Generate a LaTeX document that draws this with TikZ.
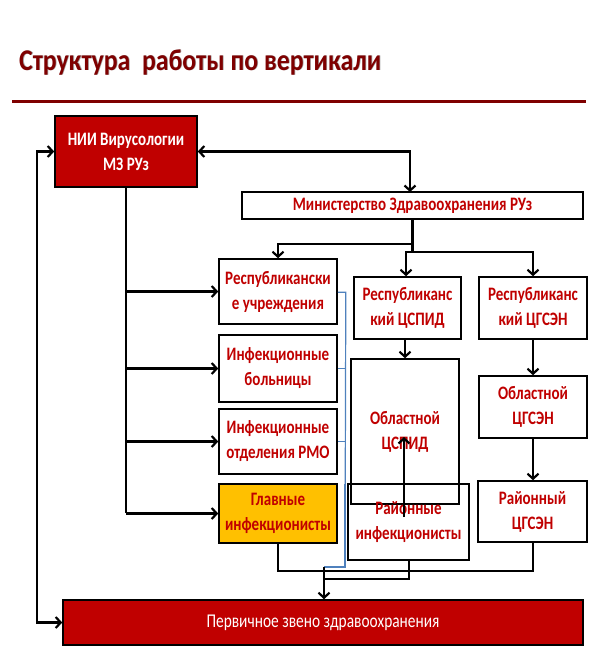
\documentclass[tikz,border=0pt]{standalone}
\usepackage{fontspec}
\setmainfont{Carlito}
\newfontfamily\cf[FakeStretch=0.79]{Carlito}
\newfontfamily\tf[FakeStretch=0.86]{Carlito}
\usetikzlibrary{arrows.meta,calc}
\definecolor{boxred}{HTML}{C00000}
\definecolor{txtred}{HTML}{C00000}
\definecolor{titlered}{HTML}{7F0000}
\definecolor{gold}{HTML}{FFC000}
\definecolor{bluel}{HTML}{4F81BD}
\tikzset{
  box/.style={draw=black, line width=1.6pt, inner sep=0pt, align=center,
    text=txtred, font=\cf\bfseries\fontsize{19}{25}\selectfont},
  redbox/.style={box, fill=boxred, text=white},
  conn/.style={line width=2.4pt, draw=black},
  arr/.style={conn, -{Straight Barb[length=5pt,width=11pt,line width=2.2pt]}},
  barr/.style={conn, {Straight Barb[length=5pt,width=11pt,line width=2.2pt]}-{Straight Barb[length=5pt,width=11pt,line width=2.2pt]}},
  thinconn/.style={line width=2pt, draw=black},
  bline/.style={line width=1.2pt, draw=bluel},
  titlefont/.style={anchor=base west, inner sep=0pt, font=\tf\bfseries\fontsize{30}{34}\selectfont},
}
\newcommand{\bx}[6]{% name, x1,y1,x2,y2, style
  \node[#6, minimum width={#4-#2}, minimum height={#5-#3}] (#1) at ({(#2+#4)/2},{(#3+#5)/2})}
\begin{document}
\begin{tikzpicture}[x=1pt,y=-1pt]
\useasboundingbox (0,0) rectangle (599,662);
\fill[white] (0,0) rectangle (599,662);
% title
\node[titlefont, text=black!35] (titlesh) at (19.8,70.8) {Структура\ \ работы по вертикали};
\node[titlefont, text=titlered] (title) at (19,70) {Структура\ \ работы по вертикали};
\draw[titlered, line width=3pt] (12,101.5) coordinate (la) -- (586,101.5) coordinate (lb);
% boxes
\bx{nii}{55}{116}{197}{187}{redbox}{НИИ Вирусологии\\МЗ РУз};
\bx{min}{242}{192}{583}{219}{box}{Министерство Здравоохранения РУз};
\bx{repu}{219}{259}{337}{324}{box}{Республикански\\е учреждения};
\bx{repc}{354}{277}{461}{339}{box}{Республиканс\\кий ЦСПИД};
\bx{repg}{479}{277}{587}{339}{box}{Республиканс\\кий ЦГСЭН};
\bx{infb}{219}{335}{337}{402}{box}{Инфекционные\\больницы};
\bx{infr}{219}{409}{337}{474}{box}{Инфекционные\\отделения РМО};
\bx{glav}{219}{484}{337}{543}{box, fill=gold}{Главные\\инфекционисты};
\bx{oblc}{351}{359}{459}{504}{box}{Областной\\ЦСПИД};
\bx{rayi}{348}{484}{469}{560}{box}{Районные\\инфекционисты};
\bx{oblg}{479}{376}{587}{438}{box}{Областной\\ЦГСЭН};
\bx{rayg}{478}{481}{587}{542}{box}{Районный\\ЦГСЭН};
\bx{perv}{63}{600}{583}{645}{redbox, font=\cf\fontsize{19.5}{22}\selectfont}{Первичное звено здравоохранения};
% coordinates
\coordinate (mintop) at (410,192);
\coordinate (niispine) at (126,513);
\coordinate (up1) at (404,517);
\coordinate (up2) at (404,437);
\coordinate (merge) at (324,567);
\coordinate (rbot) at (324,579);
% connectors
\draw[barr] (nii.west) -- ++(-17,0) |- (perv.west);
\draw[barr] (nii.east) -| (mintop);
\draw[conn] (min.south) -- ++(0,32);
\draw[arr] ($(min.south)+(0,24)$) -| (repu.north);
\draw[arr] ($(min.south)+(0,32)$) -| ($(repc.north)+(-1.5,0)$);
\draw[arr] ($(min.south)+(0,32)$) -| (repg.north);
\draw[conn] (nii.south) -- (niispine);
\draw[arr] (repu.west -| niispine) -- (repu.west);
\draw[arr] (infb.west -| niispine) -- (infb.west);
\draw[arr] (infr.west -| niispine) -- (infr.west);
\draw[arr] (glav.west -| niispine) -- (glav.west);
\draw[arr] (repc.south -| oblc.north) -- (oblc.north);
\draw[arr] (repg.south) -- (oblg.north -| repg.south);
\draw[arr] (oblg.south) -- (rayg.north -| oblg.south);
% blue line
\draw[bline] ($(repu.north east)+(0,34)$) -- ++(8,0) -- (345,567) -- (merge);
\draw[bline] (infb.east) -- (infb.east -| 345,0);
\draw[bline] (infr.east) -- (infr.east -| 345,0);
\draw[bline, line width=2.4pt] (345,484) -- (345,567) -- (merge);
% bottom merges
\draw[thinconn] (glav.south) -- ++(0,27) -| (rayg.south);
\draw[thinconn] (rayi.south) |- (rbot);
\draw[arr] (merge) -- (merge |- perv.north);
\draw[arr] (up1) -- (up2);
\end{tikzpicture}
\end{document}
